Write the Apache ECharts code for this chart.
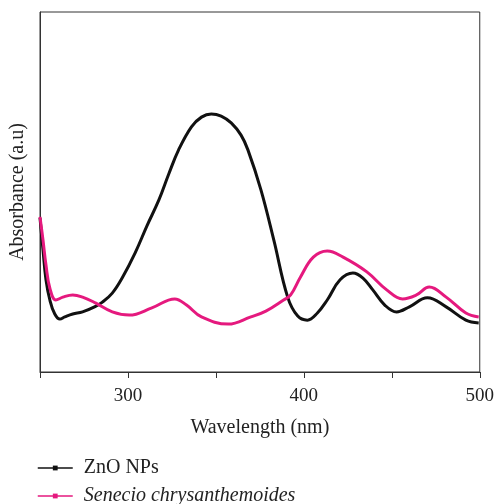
<!DOCTYPE html>
<html>
<head>
<meta charset="utf-8">
<script src="https://cdn.jsdelivr.net/npm/echarts@6/dist/echarts.min.js"></script>
<style>
  html, body { margin: 0; padding: 0; background: #fff; }
  #main { width: 497px; height: 504px; }
</style>
</head>
<body>
<div id="main"></div>
<script>
// wavelength (nm) and absorbance (arbitrary units)
var znoX = [250, 251.7, 253.4, 255.6, 258.4, 261.3, 264.1, 268.6, 274.2, 281, 285.5, 291.1, 296.7, 304.1, 310.8, 317.6, 323.2, 328.8, 336.1, 341.8, 347.4, 353, 358.7, 364.3, 368.2, 375.6, 382.9, 390.8, 396.4, 402, 407.7, 413.3, 420.6, 427.9, 433.6, 439.2, 446, 452.7, 460, 470.2, 480.9, 492.1, 499.4];
var znoY = [42.8, 33.9, 25.6, 20, 16.1, 14.7, 15.3, 16.1, 16.7, 18.1, 19.4, 21.9, 26.1, 33.1, 40.6, 47.8, 55, 61.7, 68.1, 70.8, 71.7, 71.1, 69.2, 65.8, 61.7, 50.6, 36.7, 20.8, 15.6, 14.4, 16.4, 20, 25.6, 27.5, 26.1, 22.8, 18.6, 16.7, 18.1, 20.6, 18.1, 14.4, 13.6];

var senX = [250, 251.7, 253.4, 255.6, 259, 263, 268.6, 274.2, 281.5, 291.1, 300.7, 313.6, 326.6, 333.3, 341.8, 357, 369.9, 378.4, 388.5, 392.5, 398.1, 405.4, 413.3, 422.3, 435.8, 447.1, 456.1, 464, 471.3, 480.9, 492.1, 499.4];
var senY = [43.1, 36.7, 29.7, 23.3, 20, 20.8, 21.4, 20.8, 19.2, 16.7, 15.8, 17.8, 20.3, 18.6, 15.3, 13.3, 15.3, 16.9, 20, 21.4, 26.4, 31.9, 33.6, 31.9, 27.8, 22.8, 20.3, 21.4, 23.6, 20.8, 16.4, 15.3];

var tickLabels = [300, 400, 500];

function pairs(xs, ys) {
    return xs.map(function (x, i) { return [x, ys[i]]; });
}

var serif = '"Liberation Serif", "DejaVu Serif", serif';

var myChart = echarts.init(document.getElementById('main'));
myChart.setOption({
    animation: false,
    grid: {
        left: 37, right: 16, top: 12, bottom: 132,
        show: true, borderColor: '#333', borderWidth: 1
    },
    legend: {
        orient: 'vertical',
        left: 37,
        top: 458,
        height: 60,
        padding: 0,
        itemWidth: 35,
        itemHeight: 6,
        itemGap: 8,
        lineStyle: { width: 1.5 },
        textStyle: { fontFamily: serif, fontSize: 20, lineHeight: 20, color: '#222', padding: [0, 0, 0, 6] },
        data: [
            { name: 'ZnO NPs' },
            { name: 'Senecio chrysanthemoides', textStyle: { fontStyle: 'italic' } }
        ]
    },
    xAxis: {
        type: 'value',
        min: 250, max: 500, interval: 50,
        name: 'Wavelength (nm)',
        nameLocation: 'middle',
        nameGap: 46,
        nameTextStyle: { fontFamily: serif, fontSize: 20, color: '#222' },
        axisLine: { lineStyle: { color: '#333' } },
        axisTick: { show: true, length: 6, lineStyle: { color: '#333' } },
        axisLabel: {
            fontFamily: serif, fontSize: 19, color: '#222', margin: 15,
            formatter: function (v) { return tickLabels.indexOf(v) >= 0 ? String(v) : ''; }
        },
        splitLine: { show: false }
    },
    yAxis: {
        type: 'value',
        min: 0, max: 100,
        name: 'Absorbance (a.u)',
        nameLocation: 'middle',
        nameGap: 12,
        nameTextStyle: { fontFamily: serif, fontSize: 20, color: '#222' },
        axisLine: { show: true, lineStyle: { color: '#333' } },
        axisTick: { show: false },
        axisLabel: { show: false },
        splitLine: { show: false }
    },
    series: [
        {
            name: 'ZnO NPs',
            type: 'line',
            data: pairs(znoX, znoY),
            smooth: 0.4,
            symbol: 'rect',
            symbolSize: 4,
            showSymbol: false,
            lineStyle: { color: '#111', width: 3 },
            itemStyle: { color: '#111' }
        },
        {
            name: 'Senecio chrysanthemoides',
            type: 'line',
            data: pairs(senX, senY),
            smooth: 0.4,
            symbol: 'rect',
            symbolSize: 4,
            showSymbol: false,
            lineStyle: { color: '#e5197e', width: 3 },
            itemStyle: { color: '#e5197e' }
        }
    ]
});
</script>
</body>
</html>
